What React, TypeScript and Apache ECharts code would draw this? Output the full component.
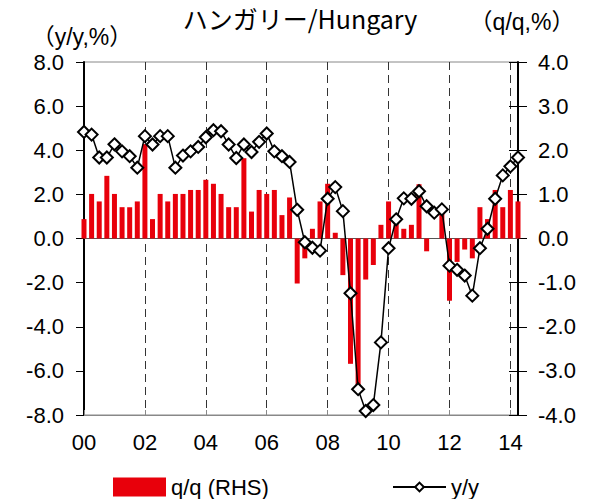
import React, { useEffect, useRef } from "react";
import * as echarts from "echarts";

const years = [2000, 2001, 2002, 2003, 2004, 2005, 2006, 2007, 2008, 2009, 2010, 2011, 2012, 2013, 2014];
const quarterCount = 58; // 2000Q1 .. 2014Q2

const yoy = [
  4.83, 4.71, 3.67, 3.67, 4.27, 3.95, 3.73, 3.21,
  4.64, 4.26, 4.64, 4.64, 3.21, 3.76, 3.95, 4.15,
  4.59, 4.91, 4.86, 4.26, 3.65, 4.26, 3.92, 4.38,
  4.76, 3.95, 3.73, 3.47, 1.3, -0.17, -0.42, -0.55,
  1.8, 2.33, 1.24, -2.48, -6.83, -7.82, -7.55, -4.71,
  -0.44, 0.87, 1.82, 1.8, 2.14, 1.46, 1.17, 1.32,
  -1.23, -1.42, -1.68, -2.59, -0.44, 0.44, 1.8, 2.86,
  3.27, 3.67,
];

const qoq = [
  0.44, 1.01, 0.84, 1.42, 1.01, 0.71, 0.71, 0.84,
  2.14, 0.44, 1.01, 0.84, 1.01, 1.01, 1.1, 1.1,
  1.33, 1.24, 1.01, 0.71, 0.71, 1.82, 0.61, 1.1,
  1.01, 1.1, 0.53, 0.93, -1.02, -0.45, 0.22, 0.84,
  1.24, 0.13, -0.83, -2.84, -3.37, -0.93, -0.6, 0.31,
  0.84, 0.34, 0.22, 0.31, 1.23, -0.29, 0, 0.57,
  -1.41, -0.53, -0.25, -0.45, 0.71, 0.44, 1.1, 0.71,
  1.1, 0.84,
];

const leftTicks = { min: -8, max: 8, interval: 2 };
const rightTicks = { min: -4, max: 4, interval: 1 };

const titleText = "ハンガリー/Hungary";
const leftUnit = "（y/y,%）";
const rightUnit = "（q/q,%）";
const barName = "q/q (RHS)";
const lineName = "y/y";

const categories: string[] = [];
for (const y of years) {
  for (let q = 1; q <= 4; q++) {
    if (categories.length < quarterCount) categories.push(`${y}Q${q}`);
  }
}

const FONT = "'Liberation Sans', Arial, 'Noto Sans CJK JP', sans-serif";
const yearTick = (idx: number) => idx % 8 === 0;

export default function App() {
  const ref = useRef<HTMLDivElement>(null);
  useEffect(() => {
    if (!ref.current) return;
    const chart = echarts.init(ref.current, undefined, { renderer: "svg" });
    chart.setOption({
      animation: false,
      backgroundColor: "#fff",
      textStyle: { fontFamily: FONT },
      grid: {
        left: 84,
        right: 79,
        top: 62,
        bottom: 84,
        show: true,
        borderColor: "#888",
        borderWidth: 1,
        backgroundColor: "transparent",
      },
      graphic: [
        {
          type: "text",
          x: 300,
          y: 18,
          style: {
            text: titleText,
            fill: "#000",
            font: `25px 'Noto Sans CJK JP', ${FONT}`,
            textAlign: "center",
            textVerticalAlign: "middle",
          },
        },
        {
          type: "text",
          x: 82,
          y: 37,
          style: {
            text: leftUnit,
            fill: "#000",
            font: `23px ${FONT}`,
            textAlign: "center",
            textVerticalAlign: "middle",
          },
        },
        {
          type: "text",
          x: 522,
          y: 22,
          style: {
            text: rightUnit,
            fill: "#000",
            font: `23px ${FONT}`,
            textAlign: "center",
            textVerticalAlign: "middle",
          },
        },
      ],
      legend: [
        {
          data: [barName],
          left: 108,
          top: 471,
          itemWidth: 53,
          itemHeight: 19,
          itemGap: 0,
          icon: "rect",
          textStyle: { fontSize: 22, color: "#000", fontFamily: FONT },
        },
        {
          data: [lineName],
          left: 387,
          top: 471,
          itemWidth: 53,
          itemHeight: 11,
          itemGap: 0,
          textStyle: { fontSize: 22, color: "#000", fontFamily: FONT },
        },
      ],
      xAxis: {
        type: "category",
        data: categories,
        boundaryGap: false,
        axisLine: { onZero: false, lineStyle: { color: "#888", width: 1 } },
        axisTick: { show: true, inside: true, length: 5, interval: yearTick, lineStyle: { color: "#888" } },
        axisLabel: {
          interval: yearTick,
          formatter: (v: string) => v.slice(2, 4),
          fontSize: 22,
          color: "#000",
          margin: 16,
          fontFamily: FONT,
        },
        splitLine: {
          show: true,
          interval: yearTick,
          lineStyle: { color: "#333", width: 1, type: [8, 5] },
        },
      },
      yAxis: [
        {
          type: "value",
          ...leftTicks,
          position: "left",
          axisLine: { show: true, lineStyle: { color: "#000", width: 2 } },
          axisTick: { show: true, length: 8, lineStyle: { color: "#000" } },
          axisLabel: {
            formatter: (v: number) => v.toFixed(1),
            fontSize: 22,
            color: "#000",
            margin: 20,
            fontFamily: FONT,
          },
          splitLine: { show: false },
        },
        {
          type: "value",
          ...rightTicks,
          position: "right",
          axisLine: { show: true, lineStyle: { color: "#000", width: 2 } },
          axisTick: { show: true, length: 9, lineStyle: { color: "#000" } },
          axisLabel: {
            formatter: (v: number) => v.toFixed(1),
            fontSize: 22,
            color: "#000",
            margin: 20,
            fontFamily: FONT,
          },
          splitLine: { show: false },
        },
        {
          type: "value",
          ...rightTicks,
          position: "right",
          axisLine: { show: false },
          axisTick: { show: true, inside: true, length: 9, lineStyle: { color: "#000" } },
          axisLabel: { show: false },
          splitLine: { show: false },
        },
      ],
      series: [
        {
          name: barName,
          type: "bar",
          yAxisIndex: 1,
          data: qoq,
          barWidth: 5,
          itemStyle: { color: "#e8000b" },
          z: 2,
        },
        {
          name: lineName,
          type: "line",
          yAxisIndex: 0,
          data: yoy,
          symbol: "diamond",
          symbolSize: 12,
          showAllSymbol: true,
          lineStyle: { color: "#000", width: 1.5 },
          itemStyle: { color: "#fff", borderColor: "#000", borderWidth: 2 },
          z: 5,
          markLine: {
            silent: true,
            symbol: "none",
            label: { show: false },
            lineStyle: { color: "#555", width: 1, type: "solid" },
            data: [{ yAxis: 0 }],
            z: 1,
          },
        },
      ],
    });
    return () => chart.dispose();
  }, []);
  return (
    <div
      ref={ref}
      style={{ position: "fixed", left: 0, top: 0, width: 597, height: 499, background: "#fff" }}
    />
  );
}
